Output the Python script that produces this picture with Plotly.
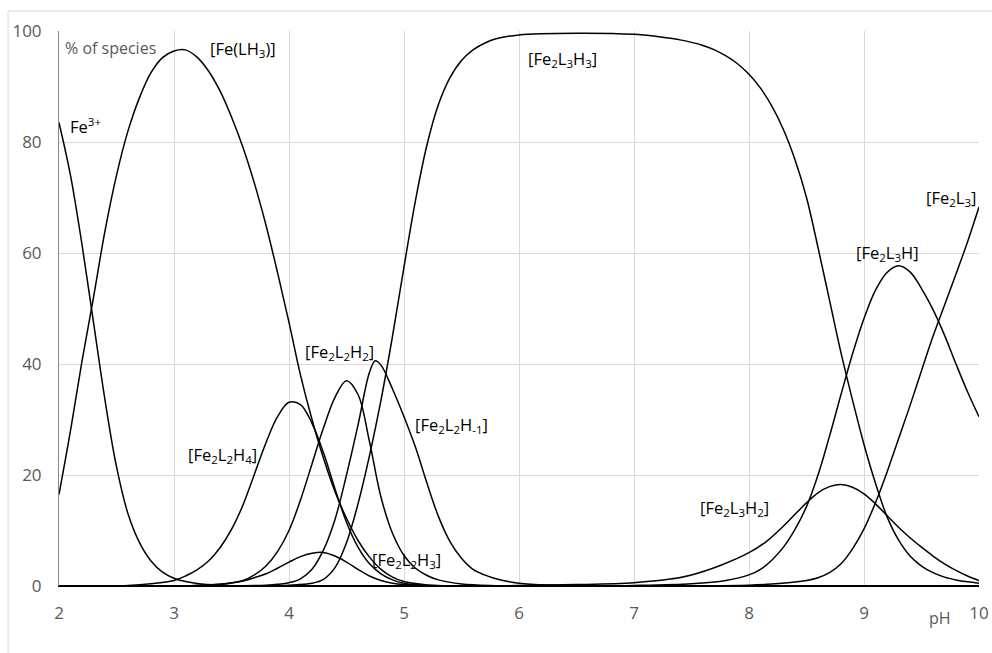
import plotly.graph_objects as go

# ---------------- data ----------------
ph_fe = [2.0, 2.1, 2.2, 2.3, 2.4, 2.5, 2.6, 2.7, 2.8, 2.9, 3.0, 3.1, 3.2, 3.4, 3.6, 4.0, 10.0]
val_fe = [83.5, 74, 61.5, 47.5, 33.5, 21.5, 13, 7.8, 4.5, 2.5, 1.4, 0.8, 0.45, 0.15, 0.05, 0, 0]

ph_felh3 = [2.0, 2.1, 2.2, 2.3, 2.4, 2.5, 2.6, 2.7, 2.8, 2.9, 3.0, 3.1, 3.2, 3.3, 3.4, 3.5, 3.6, 3.7,
            3.8, 3.9, 4.0, 4.1, 4.2, 4.3, 4.4, 4.5, 4.6, 4.7, 4.8, 4.9, 5.0, 5.2, 5.5, 10.0]
val_felh3 = [16.5, 28, 40.5, 52, 64, 74, 82, 88, 92.5, 95.2, 96.4, 96.6, 95.3, 92.8, 89.2, 84.5, 79, 72.5,
             65, 56.5, 47.5, 38, 30, 23, 17, 12.2, 8.2, 5.2, 3, 1.6, 0.8, 0.2, 0.03, 0]

ph_l2h4 = [2.0, 2.6, 2.8, 3.0, 3.1, 3.2, 3.3, 3.4, 3.5, 3.6, 3.7, 3.8, 3.9, 4.0, 4.1, 4.2, 4.3, 4.4,
           4.5, 4.6, 4.7, 4.8, 4.9, 5.0, 5.2, 5.5, 10.0]
val_l2h4 = [0, 0.1, 0.4, 1.0, 1.8, 2.9, 4.5, 6.9, 10.2, 14.6, 20.2, 25.8, 30.5, 33.1, 32.7, 29.3, 24, 17.5,
            11.5, 7, 4, 2.2, 1.1, 0.5, 0.1, 0, 0]

ph_l2h3 = [2.0, 3.2, 3.4, 3.6, 3.7, 3.8, 3.9, 4.0, 4.1, 4.2, 4.3, 4.4, 4.5, 4.6, 4.7, 4.8, 4.9, 5.0,
           5.2, 5.5, 10.0]
val_l2h3 = [0, 0.1, 0.3, 0.9, 1.5, 2.2, 3.2, 4.3, 5.3, 5.9, 6.05, 5.4, 4.3, 3.0, 1.8, 1.0, 0.5, 0.25,
            0.07, 0, 0]

ph_l2h2 = [2.0, 3.2, 3.4, 3.6, 3.7, 3.8, 3.9, 4.0, 4.1, 4.2, 4.3, 4.4, 4.5, 4.6, 4.7, 4.8, 4.9, 5.0,
           5.1, 5.2, 5.3, 5.5, 5.8, 6.2, 10.0]
val_l2h2 = [0, 0.1, 0.3, 1.0, 2.0, 3.6, 6.2, 10, 15.5, 22, 28.5, 34, 37, 34.5, 26, 16, 9.5, 5.5,
            3.2, 1.9, 1.1, 0.35, 0.06, 0, 0]

ph_l2hm1 = [2.0, 3.6, 3.8, 3.9, 4.0, 4.1, 4.2, 4.3, 4.4, 4.5, 4.6, 4.7, 4.75, 4.8, 4.9, 5.0, 5.1, 5.2,
            5.3, 5.4, 5.5, 5.6, 5.7, 5.8, 6.0, 6.3, 6.6, 7.0, 10.0]
val_l2hm1 = [0, 0.05, 0.15, 0.3, 0.6, 1.3, 3.0, 6.5, 12, 20, 29, 38.5, 40.6, 39.8, 35.5, 30.5, 25, 18.5,
             12.5, 8, 5, 3, 2, 1.3, 0.5, 0.15, 0.05, 0, 0]

ph_l3h3 = [2.0, 3.8, 4.0, 4.2, 4.3, 4.4, 4.5, 4.6, 4.7, 4.8, 4.9, 5.0, 5.1, 5.2, 5.3, 5.4, 5.5, 5.6,
           5.7, 5.8, 6.0, 6.5, 7.0, 7.2, 7.4, 7.6, 7.7, 7.8, 7.9, 8.0, 8.1, 8.2, 8.3, 8.4, 8.5, 8.6,
           8.7, 8.8, 8.9, 9.0, 9.1, 9.2, 9.3, 9.4, 9.5, 9.6, 9.7, 9.8, 9.9, 10.0]
val_l3h3 = [0, 0.05, 0.15, 0.5, 1.2, 3.3, 7.8, 14.8, 23.5, 33.5, 45, 57.5, 69.5, 79.5, 86.8, 91.6, 94.7, 96.6,
            97.8, 98.6, 99.3, 99.6, 99.4, 99.0, 98.4, 97.4, 96.6, 95.5, 94.1, 92.2, 89.7, 86.4, 82.2, 76.8, 70, 61,
            51.5, 42, 33.5, 25.5, 18.5, 12.5, 8.3, 5.4, 3.6, 2.4, 1.6, 1.1, 0.75, 0.5]

ph_l3h2 = [2.0, 5.5, 6.0, 6.5, 7.0, 7.3, 7.5, 7.75, 8.0, 8.15, 8.3, 8.5, 8.6, 8.7, 8.8, 8.9, 9.0, 9.1,
           9.2, 9.3, 9.4, 9.5, 9.6, 9.7, 9.8, 9.9, 10.0]
val_l3h2 = [0, 0.02, 0.08, 0.25, 0.6, 1.2, 2.0, 3.7, 6.0, 8.0, 10.8, 15, 16.8, 17.9, 18.3, 17.8, 16.6, 14.8,
            12.7, 10.6, 8.7, 7.0, 5.4, 4.0, 2.8, 1.8, 1.0]

ph_l3h = [2.0, 6.5, 7.0, 7.5, 7.8, 8.0, 8.1, 8.2, 8.3, 8.4, 8.5, 8.6, 8.7, 8.8, 8.9, 9.0, 9.1, 9.2,
          9.3, 9.4, 9.5, 9.6, 9.7, 9.8, 9.9, 10.0]
val_l3h = [0, 0.02, 0.1, 0.4, 1.0, 2.0, 3.0, 4.7, 7.0, 10.2, 14.3, 20, 27, 34.5, 41.8, 48.2, 53.3, 56.5,
           57.7, 56.6, 53.6, 49.8, 45.2, 40, 35, 30.5]

ph_l3 = [2.0, 7.5, 8.0, 8.2, 8.4, 8.5, 8.6, 8.7, 8.8, 8.9, 9.0, 9.1, 9.2, 9.3, 9.4, 9.5, 9.6, 9.7,
         9.8, 9.9, 10.0]
val_l3 = [0, 0.03, 0.15, 0.35, 0.7, 1.0, 1.5, 2.4, 4.0, 6.7, 10.3, 15, 20.5, 26.5, 32.5, 38.8, 45, 50.6,
          56.2, 62, 68.3]

series_names = ["Fe3+", "[Fe(LH3)]", "[Fe2L2H4]", "[Fe2L2H3]", "[Fe2L2H2]", "[Fe2L2H-1]",
                "[Fe2L3H3]", "[Fe2L3H2]", "[Fe2L3H]", "[Fe2L3]"]
series_x = [ph_fe, ph_felh3, ph_l2h4, ph_l2h3, ph_l2h2, ph_l2hm1, ph_l3h3, ph_l3h2, ph_l3h, ph_l3]
series_y = [val_fe, val_felh3, val_l2h4, val_l2h3, val_l2h2, val_l2hm1, val_l3h3, val_l3h2, val_l3h, val_l3]

x_ticks = [2, 3, 4, 5, 6, 7, 8, 9, 10]
y_ticks = [0, 20, 40, 60, 80, 100]

# label texts and their positions (pH, %)
label_texts = ["Fe<sup>3+</sup>", "[Fe(LH<sub>3</sub>)]", "[Fe<sub>2</sub>L<sub>2</sub>H<sub>4</sub>]",
               "[Fe<sub>2</sub>L<sub>2</sub>H<sub>3</sub>]", "[Fe<sub>2</sub>L<sub>2</sub>H<sub>2</sub>]",
               "[Fe<sub>2</sub>L<sub>2</sub>H<sub>-1</sub>]", "[Fe<sub>2</sub>L<sub>3</sub>H<sub>3</sub>]",
               "[Fe<sub>2</sub>L<sub>3</sub>H<sub>2</sub>]", "[Fe<sub>2</sub>L<sub>3</sub>H]",
               "[Fe<sub>2</sub>L<sub>3</sub>]"]
label_x = [2.078, 3.60, 3.426, 5.026, 4.443, 5.417, 6.374, 7.878, 9.20, 9.757]
label_y = [82.9, 96.8, 23.6, 4.6, 42.2, 29.0, 94.9, 14.0, 60.0, 69.9]
label_anchor = ["left", "center", "center", "center", "center", "center", "center", "center", "center", "center"]

# ---------------- figure ----------------
fig = go.Figure()
for name, xs, ys in zip(series_names, series_x, series_y):
    fig.add_trace(go.Scatter(x=xs, y=ys, mode="lines", name=name,
                             line=dict(color="#000000", width=1.5, shape="spline", smoothing=1.0),
                             hoverinfo="x+y+name"))

for t, lx, ly, anc in zip(label_texts, label_x, label_y, label_anchor):
    fig.add_annotation(x=lx, y=ly, xref="x", yref="y", text=t, showarrow=False,
                       xanchor=anc, yanchor="middle",
                       font=dict(family="Open Sans", size=16.5, color="#000000"))

fig.add_annotation(x=2.452, y=96.9, xref="x", yref="y", text="% of species", showarrow=False,
                   xanchor="center", yanchor="middle",
                   font=dict(family="Open Sans", size=16, color="#595959"))
# axis title "pH" sits below the plot area, so it is placed in paper coordinates
fig.add_annotation(x=0.9576, y=-0.058, xref="paper", yref="paper", text="pH", showarrow=False,
                   xanchor="center", yanchor="middle",
                   font=dict(family="Open Sans", size=16, color="#595959"))

# outer chart border (left and top edges)
fig.add_shape(type="line", xref="paper", yref="paper", x0=-0.0554, x1=-0.0554, y0=1.036, y1=-0.15,
              line=dict(color="#d9d9d9", width=1))
fig.add_shape(type="line", xref="paper", yref="paper", x0=-0.0554, x1=1.03, y0=1.036, y1=1.036,
              line=dict(color="#d9d9d9", width=1))

fig.update_layout(
    width=992, height=653,
    margin=dict(l=59, r=13, t=31, b=67, autoexpand=False),
    paper_bgcolor="white", plot_bgcolor="white",
    showlegend=False,
    font=dict(family="Open Sans", size=17, color="#595959"),
    xaxis=dict(range=[2, 10], tickvals=x_ticks, showgrid=True, gridcolor="#d9d9d9", gridwidth=1,
               zeroline=False, showline=True, linecolor="#000000", linewidth=1, layer="below traces",
               automargin=False,
               ticks="", ticklabelstandoff=12, tickfont=dict(family="Open Sans", size=17, color="#595959")),
    yaxis=dict(range=[0, 100], tickvals=y_ticks, showgrid=True, gridcolor="#d9d9d9", gridwidth=1,
               zeroline=False, showline=True, linecolor="#868686", linewidth=1, layer="below traces",
               automargin=False,
               ticks="", ticklabelstandoff=13, tickfont=dict(family="Open Sans", size=17, color="#595959")),
)

fig.write_html("out.html")
